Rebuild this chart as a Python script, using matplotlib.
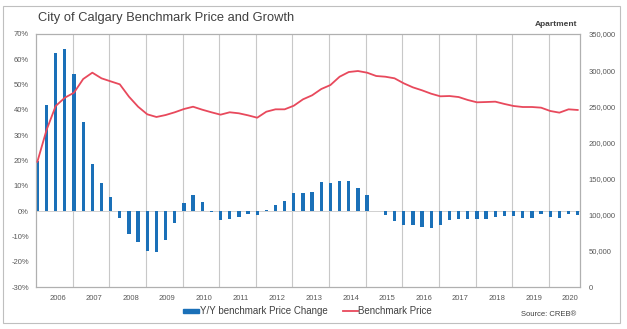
import numpy as np
import matplotlib.pyplot as plt
from matplotlib.patches import Rectangle
from matplotlib.lines import Line2D

plt.rcParams['font.family'] = ['Liberation Sans', 'DejaVu Sans']

# quarterly data, 2006 Q1 .. 2020 Q4
yoy_change = [19.8, 42.1, 62.5, 64.0, 54.2, 35.4, 18.8, 11.3, 5.5, -2.8,
              -9.1, -12.1, -15.6, -16.0, -11.3, -4.6, 3.1, 6.3, 3.4, -0.4,
              -3.4, -3.2, -2.4, -1.3, -1.6, 0.5, 2.5, 3.8, 7.2, 7.3,
              7.7, 11.5, 11.0, 11.8, 11.9, 9.1, 6.4, 0.2, -1.7, -3.9,
              -5.5, -5.4, -6.4, -6.6, -5.6, -3.7, -3.0, -3.3, -3.1, -3.1,
              -2.4, -2.0, -2.0, -2.6, -2.6, -1.3, -2.4, -2.6, -1.3, -1.4]
benchmark = [173300, 217200, 250400, 261900, 268800, 287700, 296500, 288700, 284500, 280400,
             263300, 249400, 238900, 235200, 237900, 241700, 246200, 249400, 245300, 241700,
             238400, 241700, 240300, 237500, 234200, 242500, 245800, 245800, 250800, 259600,
             265200, 273900, 279400, 290900, 297400, 298800, 296500, 291900, 290900, 288700,
             281800, 276200, 272100, 267400, 263800, 264200, 262800, 258700, 255500, 255900,
             256400, 253200, 250400, 249000, 249000, 248100, 243500, 241200, 245800, 244900]
years = [str(y) for y in range(2006, 2021)]

blue = '#1A70B8'
red = '#E8495C'
grey = '#595959'

fig = plt.figure(figsize=(6.27, 3.29), dpi=100)
ax = fig.add_axes([36 / 627, 1 - 287 / 329, 544 / 627, 253 / 329])
ax2 = ax.twinx()

x = np.arange(len(yoy_change))
ax.bar(x, yoy_change, width=0.36, color=blue, zorder=3)
ax2.plot(x, benchmark, color=red, lw=1.3, zorder=4)

ax.set_xlim(-0.15, 59.25)
ax.set_ylim(-30, 70)
ax.set_yticks(range(-30, 71, 10))
ax.set_yticklabels([f'{v}%' for v in range(-30, 71, 10)])
ax2.set_ylim(0, 350000)
ax2.set_yticks(range(0, 350001, 50000))
ax2.set_yticklabels([f'{v:,}' for v in range(0, 350001, 50000)])

# year gridlines and labels
for k in range(1, 15):
    ax.axvline(4 * k - 0.15, color='#C8C8C8', lw=0.8, zorder=1)
ax.set_xticks([4 * k + 2.2 for k in range(15)])
ax.set_xticklabels(years)
ax.axhline(0, color='#D0D0D0', lw=0.7, zorder=2)

for a in (ax, ax2):
    a.tick_params(length=0, labelsize=5.5, labelcolor=grey, pad=5)
    for s in a.spines.values():
        s.set_color('#B0B0B0')
        s.set_linewidth(0.8)
ax.tick_params(axis='x', pad=6)
ax2.tick_params(axis='y', pad=6)

fig.text(38 / 627, 1 - 18 / 329, 'City of Calgary Benchmark Price and Growth',
         fontsize=9.3, color='#404040', va='center', ha='left')
fig.text(577 / 627, 1 - 25 / 329, 'Apartment', fontsize=6, fontweight='bold',
         color='#404040', va='center', ha='right')
fig.text(521 / 627, 1 - 315 / 329, 'Source: CREB\u00ae', fontsize=5.5,
         color='#404040', va='center', ha='left')

# legend
fig.patches.append(Rectangle((183 / 627, 1 - 313 / 329), 16 / 627, 4 / 329,
                             transform=fig.transFigure, color=blue))
fig.text(200 / 627, 1 - 311 / 329, 'Y/Y benchmark Price Change', fontsize=7,
         color='#404040', va='center', ha='left')
fig.lines.append(Line2D([343 / 627, 358 / 627], [1 - 311 / 329, 1 - 311 / 329],
                        transform=fig.transFigure, color=red, lw=1.3))
fig.text(358 / 627, 1 - 311 / 329, 'Benchmark Price', fontsize=7,
         color='#404040', va='center', ha='left')

# outer frame
fig.patches.append(Rectangle((3 / 627, 1 - 323 / 329), 617 / 627, 317 / 329,
                             transform=fig.transFigure, fill=False,
                             edgecolor='#BFBFBF', lw=0.8))

fig.savefig('out.png', dpi=100)
